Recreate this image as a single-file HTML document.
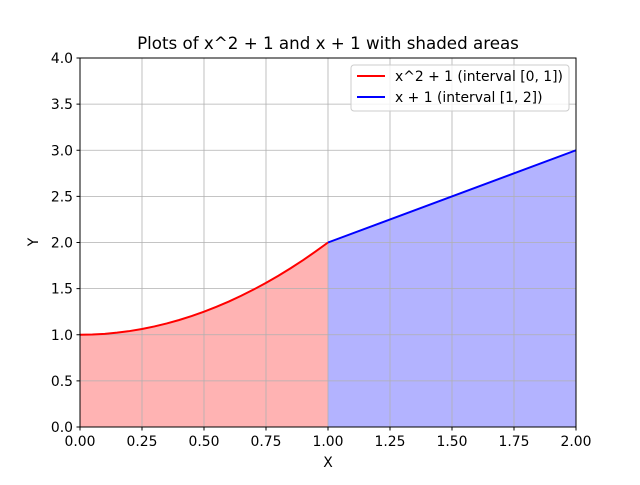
<!DOCTYPE html>
<html><head><meta charset="utf-8"><style>
body{margin:0;background:#fff}
svg{font-family:"DejaVu Sans","Liberation Sans",sans-serif}
</style></head><body>
<svg id="chart" width="640" height="480">
<rect width="640" height="480" fill="#fff"/>
<g id="fills"></g>
<g id="grid"></g>
<g id="lines"></g>
<rect x="80" y="58" width="496" height="369" fill="none" stroke="#000" stroke-width="1"/>
<g id="ticks" font-size="13.9" fill="#000"></g>
<text x="328" y="49" text-anchor="middle" font-size="16.7">Plots of x^2 + 1 and x + 1 with shaded areas</text>
<text x="328" y="467" text-anchor="middle" font-size="13.9">X</text>
<text x="38" y="242" text-anchor="middle" font-size="13.9" transform="rotate(-90 38 242)">Y</text>
<g>
<rect x="351" y="65" width="218" height="46" rx="3" fill="#fff" fill-opacity="0.8" stroke="#ccc"/>
<line x1="357" y1="76" x2="385" y2="76" stroke="red" stroke-width="2"/>
<text x="395" y="81" font-size="13.9">x^2 + 1 (interval [0, 1])</text>
<line x1="357" y1="97" x2="385" y2="97" stroke="blue" stroke-width="2"/>
<text x="395" y="102" font-size="13.9">x + 1 (interval [1, 2])</text>
</g>
</svg>
<script>
const redX=[0,0.05,0.1,0.15,0.2,0.25,0.3,0.35,0.4,0.45,0.5,0.55,0.6,0.65,0.7,0.75,0.8,0.85,0.9,0.95,1];
const redY=[1,1.0025,1.01,1.0225,1.04,1.0625,1.09,1.1225,1.16,1.2025,1.25,1.3025,1.36,1.4225,1.49,1.5625,1.64,1.7225,1.81,1.9025,2];
const blueX=[1,2];
const blueY=[2,3];
const xTicks=[0,0.25,0.5,0.75,1,1.25,1.5,1.75,2];
const yTicks=[0,0.5,1,1.5,2,2.5,3,3.5,4];
const sx=v=>80+v/2*496, sy=v=>427-v/4*369;
const NS="http://www.w3.org/2000/svg";
function mk(t,a,p){const e=document.createElementNS(NS,t);for(const k in a)e.setAttribute(k,a[k]);p.appendChild(e);return e;}
const grid=document.getElementById('grid'),ticks=document.getElementById('ticks');
xTicks.forEach(v=>{const x=sx(v);
const g=mk('line',{x1:x,x2:x,y1:58,y2:427,stroke:'#b0b0b0','stroke-width':0.8},grid);


mk('line',{x1:x,x2:x,y1:427,y2:430.5,stroke:'#000'},ticks);
const t=mk('text',{x:x,y:446,'text-anchor':'middle'},ticks);t.textContent=v.toFixed(2);

});
yTicks.forEach(v=>{const y=sy(v);
const g=mk('line',{x1:80,x2:576,y1:y,y2:y,stroke:'#b0b0b0','stroke-width':0.8},grid);


mk('line',{x1:76.5,x2:80,y1:y,y2:y,stroke:'#000'},ticks);
const t=mk('text',{x:73,y:y+5,'text-anchor':'end'},ticks);t.textContent=v.toFixed(1);

});
function series(xs,ys,col,fill,name){
const pts=xs.map((x,i)=>sx(x)+','+sy(ys[i]));
const area=mk('polygon',{points:sx(xs[0])+','+sy(0)+' '+pts.join(' ')+' '+sx(xs[xs.length-1])+','+sy(0),fill:fill},document.getElementById('fills'));


const l=mk('polyline',{points:pts.join(' '),fill:'none',stroke:col,'stroke-width':2},document.getElementById('lines'));

}
series(redX,redY,'red','#ffb3b3','red-series');
series(blueX,blueY,'blue','#b3b3ff','blue-series');
</script>
</body></html>
